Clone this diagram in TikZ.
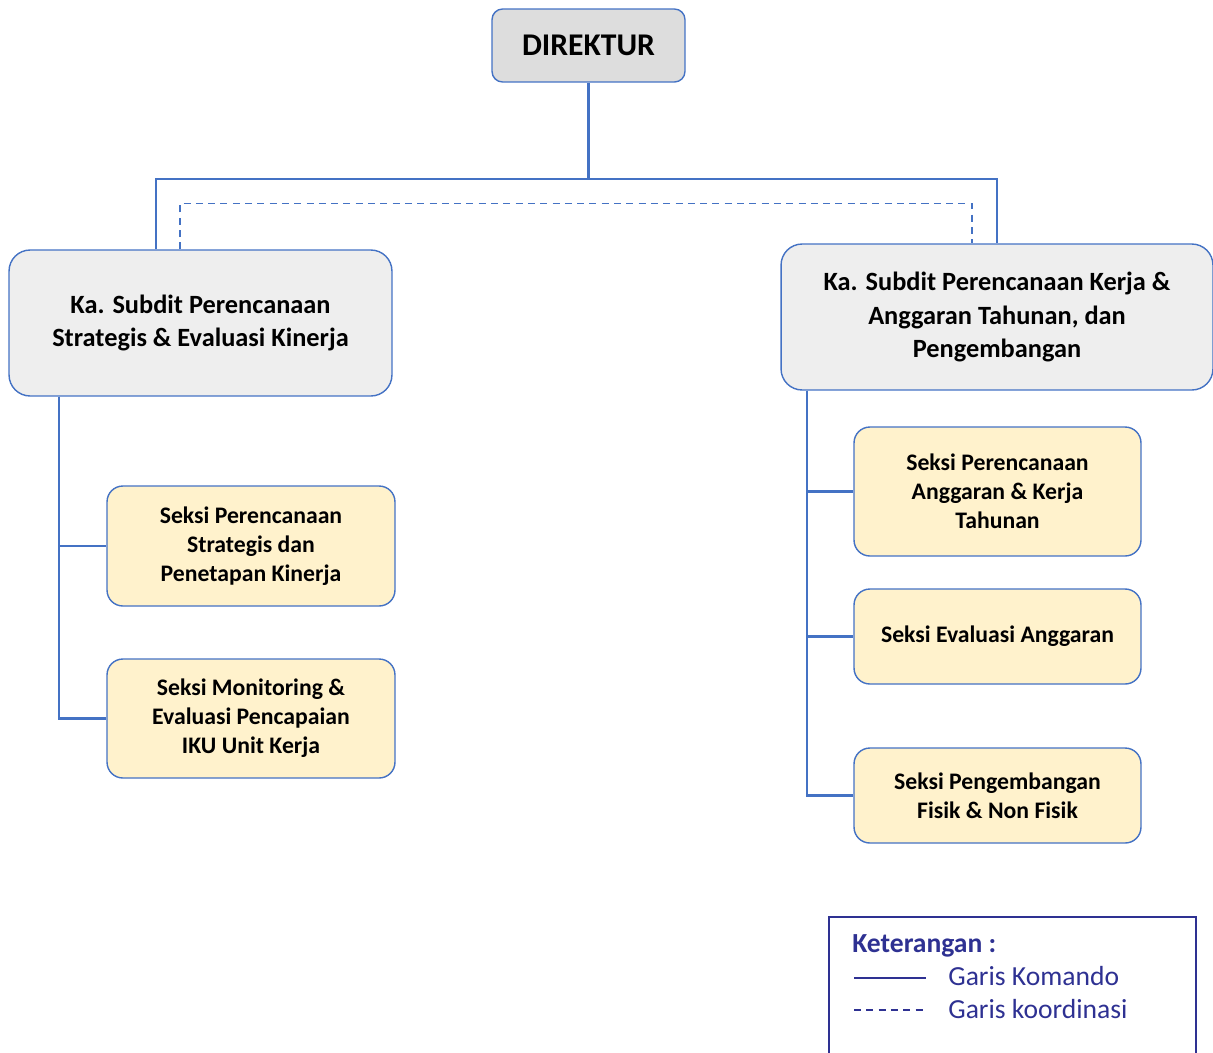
\documentclass[tikz,border=0pt]{standalone}
\usepackage{fontspec}
\setmainfont{Carlito}
\usetikzlibrary{positioning}
\definecolor{garis}{RGB}{68,114,196}
\definecolor{abu}{RGB}{221,221,221}
\definecolor{abumuda}{RGB}{238,238,238}
\definecolor{kuning}{RGB}{255,242,204}
\definecolor{ungu}{RGB}{46,49,146}

\begin{document}
\begin{tikzpicture}[x=0.02cm,y=-0.02cm,
  kotak/.style={draw=garis,line width=0.8pt,rounded corners=12pt,align=center,font=\bfseries},
  direktur/.style={kotak,fill=abu,minimum width=3.86cm,minimum height=1.46cm,rounded corners=6pt,font=\bfseries\fontsize{18}{22}\selectfont},
  subdit/.style={kotak,fill=abumuda,minimum height=2.92cm,font=\bfseries\fontsize{15}{18.8}\selectfont},
  seksi/.style={kotak,fill=kuning,minimum width=5.76cm,rounded corners=9pt,font=\bfseries\fontsize{13.5}{16.5}\selectfont},
  komando/.style={draw=garis,line width=1.2pt},
  koor/.style={draw=garis,line width=0.8pt,dash pattern=on 4pt off 3pt},
  ket/.style={anchor=west,text=ungu,inner sep=0pt,font=\fontsize{15.7}{18}\selectfont}]
 \useasboundingbox (0,0) rectangle (1213,1052);
 \node[direktur] (dir) at (588.5,45.5) {DIREKTUR};
 \node[subdit,minimum width=7.66cm] (kiri) at (200.5,323) {Ka. Subdit Perencanaan\\Strategis \& Evaluasi Kinerja};
 \node[subdit,minimum width=8.64cm] (kanan) at (997,317) {Ka. Subdit Perencanaan Kerja \&\\Anggaran Tahunan, dan\\Pengembangan};
 \node[seksi,minimum height=2.4cm] (sk1) at (251,546) {Seksi Perencanaan\\Strategis dan\\Penetapan Kinerja};
 \node[seksi,minimum height=2.38cm] (sk2) at (251,718.5) {Seksi Monitoring \&\\Evaluasi Pencapaian\\IKU Unit Kerja};
 \node[seksi,minimum width=5.74cm,minimum height=2.58cm] (sn1) at (997.5,491.5) {Seksi Perencanaan\\Anggaran \& Kerja\\Tahunan};
 \node[seksi,minimum width=5.74cm,minimum height=1.9cm] (sn2) at (997.5,636.5) {Seksi Evaluasi Anggaran};
 \node[seksi,minimum width=5.74cm,minimum height=1.9cm] (sn3) at (997.5,795.5) {Seksi Pengembangan\\Fisik \& Non Fisik};
 \coordinate (bus) at ([yshift=-1.92cm]dir.south);
 \draw[komando] (dir.south) -- (bus);
 \draw[komando] ([xshift=-0.89cm]kiri.north) |- (bus) -| (kanan.north);
 \draw[koor] ([xshift=-0.41cm]kiri.north) |- ([yshift=-0.5cm]bus) -| ([xshift=-0.5cm]kanan.north);
 \draw[komando] ([xshift=-2.83cm]kiri.south) |- (sk1.west);
 \draw[komando] ([xshift=-2.83cm]kiri.south) |- (sk2.west);
 \draw[komando] ([xshift=-3.8cm]kanan.south) |- (sn1.west);
 \draw[komando] ([xshift=-3.8cm]kanan.south) |- (sn2.west);
 \draw[komando] ([xshift=-3.8cm]kanan.south) |- (sn3.west);
 % keterangan
 \draw[draw=ungu,line width=1.2pt] (829,1070) |- (1196,917) -- (1196,1070);
 \node[ket,font=\bfseries\fontsize{15.7}{18}\selectfont] (judul) at (852,946) {Keterangan :};
 \coordinate (a1) at (854,978);
 \coordinate (a2) at (926,978);
 \coordinate (b1) at (854,1010);
 \coordinate (b2) at (926,1010);
 \draw[draw=ungu,line width=1.1pt] (a1) -- (a2);
 \draw[draw=ungu,line width=0.6pt,dash pattern=on 4pt off 3pt] (b1) -- (b2);
 \node[ket] (kom) at (948,976) {Garis Komando};
 \node[ket] (kor) at (948,1009) {Garis koordinasi};
\end{tikzpicture}
\end{document}
